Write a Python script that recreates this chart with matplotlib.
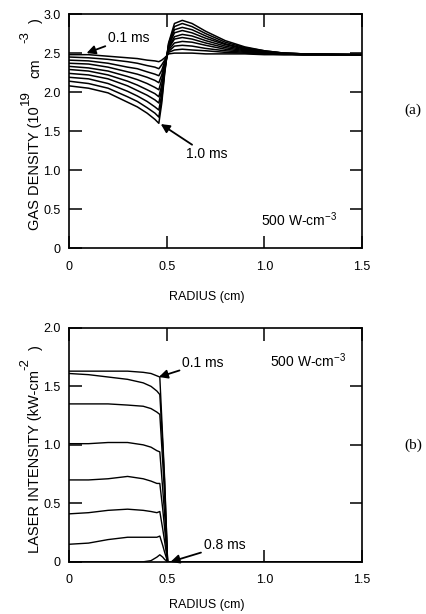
import matplotlib
matplotlib.use('Agg')
from matplotlib import pyplot as plt

plt.rcParams['font.family'] = ['Liberation Sans', 'DejaVu Sans']
plt.rcParams['mathtext.fontset'] = 'custom'
plt.rcParams['mathtext.rm'] = 'Liberation Sans'

# (a) gas density, 0.1 ms ... 1.0 ms
r_gas = [0, 0.1, 0.2, 0.3, 0.35, 0.4, 0.44, 0.46, 0.475, 0.49, 0.51, 0.54,
         0.58, 0.63, 0.7, 0.8, 0.9, 1.0, 1.1, 1.2, 1.5]
gas = [
    [2.48, 2.48, 2.46, 2.44, 2.43, 2.41, 2.40, 2.39, 2.41, 2.44, 2.49, 2.50, 2.50, 2.50, 2.49, 2.49, 2.49, 2.48, 2.48, 2.48, 2.48],
    [2.45, 2.44, 2.42, 2.39, 2.37, 2.34, 2.32, 2.30, 2.35, 2.41, 2.51, 2.54, 2.55, 2.54, 2.53, 2.51, 2.50, 2.49, 2.48, 2.48, 2.48],
    [2.41, 2.40, 2.37, 2.32, 2.30, 2.26, 2.23, 2.21, 2.28, 2.39, 2.52, 2.59, 2.60, 2.59, 2.56, 2.53, 2.51, 2.49, 2.49, 2.48, 2.48],
    [2.37, 2.36, 2.32, 2.26, 2.23, 2.19, 2.15, 2.12, 2.22, 2.37, 2.54, 2.63, 2.65, 2.64, 2.60, 2.55, 2.52, 2.50, 2.49, 2.48, 2.48],
    [2.33, 2.31, 2.27, 2.20, 2.16, 2.11, 2.06, 2.03, 2.16, 2.35, 2.56, 2.68, 2.70, 2.68, 2.63, 2.57, 2.53, 2.51, 2.49, 2.48, 2.48],
    [2.29, 2.27, 2.22, 2.14, 2.09, 2.03, 1.98, 1.94, 2.09, 2.32, 2.57, 2.71, 2.74, 2.72, 2.66, 2.59, 2.54, 2.51, 2.49, 2.48, 2.48],
    [2.24, 2.22, 2.17, 2.08, 2.02, 1.96, 1.90, 1.86, 2.04, 2.30, 2.59, 2.76, 2.79, 2.76, 2.69, 2.61, 2.55, 2.52, 2.50, 2.49, 2.48],
    [2.19, 2.17, 2.11, 2.01, 1.95, 1.88, 1.81, 1.77, 1.97, 2.28, 2.60, 2.80, 2.83, 2.80, 2.72, 2.62, 2.56, 2.52, 2.50, 2.49, 2.48],
    [2.14, 2.11, 2.05, 1.94, 1.88, 1.80, 1.73, 1.68, 1.91, 2.26, 2.62, 2.84, 2.88, 2.84, 2.75, 2.64, 2.57, 2.53, 2.50, 2.49, 2.48],
    [2.08, 2.05, 1.99, 1.87, 1.81, 1.73, 1.65, 1.60, 1.86, 2.24, 2.63, 2.88, 2.92, 2.88, 2.78, 2.66, 2.58, 2.53, 2.50, 2.49, 2.48],
]

# (b) laser intensity, 0.1 ms ... 0.8 ms
r_las = [0, 0.1, 0.2, 0.3, 0.38, 0.42, 0.45, 0.465, 0.48, 0.49, 0.505, 0.52, 1.5]
laser = [
    [1.63, 1.63, 1.63, 1.63, 1.62, 1.61, 1.59, 1.58, 1.05, 0.70, 0.0, 0.0, 0.0],
    [1.61, 1.60, 1.58, 1.56, 1.53, 1.50, 1.46, 1.43, 1.00, 0.66, 0.0, 0.0, 0.0],
    [1.35, 1.35, 1.35, 1.34, 1.33, 1.31, 1.28, 1.26, 0.85, 0.55, 0.0, 0.0, 0.0],
    [1.01, 1.01, 1.02, 1.02, 1.00, 0.98, 0.95, 0.94, 0.62, 0.40, 0.0, 0.0, 0.0],
    [0.70, 0.70, 0.71, 0.73, 0.71, 0.69, 0.67, 0.67, 0.45, 0.28, 0.0, 0.0, 0.0],
    [0.41, 0.42, 0.44, 0.45, 0.44, 0.43, 0.42, 0.43, 0.28, 0.17, 0.0, 0.0, 0.0],
    [0.15, 0.16, 0.19, 0.21, 0.21, 0.21, 0.21, 0.22, 0.14, 0.08, 0.0, 0.0, 0.0],
    [0.0, 0.0, 0.0, 0.0, 0.0, 0.01, 0.04, 0.06, 0.04, 0.02, 0.0, 0.0, 0.0],
]

# y labels as pieces: (text, size, raise px, gap after px)
ylab_gas = [('GAS DENSITY (10', 10.5, 0, 1), ('19', 9.5, 11, 12),
            ('cm', 10.5, 0, 16), ('-3', 9.5, 11, 8), (')', 10.5, 0, 0)]
ylab_las = [('LASER INTENSITY (kW-cm', 10.5, 0, 0), ('-2', 9.5, 11, 8),
            (')', 10.5, 0, 0)]

W, H = 427, 614
fig = plt.figure(figsize=(W / 100, H / 100), dpi=100)
ax1 = fig.add_axes([0.1616, 0.596, 0.686, 0.381])
ax2 = fig.add_axes([0.1616, 0.085, 0.686, 0.381])

for ys in gas:
    ax1.plot(r_gas, ys, color='k', lw=1.1)
for ys in laser:
    ax2.plot(r_las, ys, color='k', lw=1.0)

for ax, ymax, ylab_y in ((ax1, 3.0, -0.185), (ax2, 2.0, -0.16)):
    ax.set_xlim(0, 1.5)
    ax.set_ylim(0, ymax)
    ax.set_xticks([0, 0.5, 1.0, 1.5])
    ax.set_xticklabels(['0', '0.5', '1.0', '1.5'])
    yt = [i * 0.5 for i in range(int(ymax / 0.5) + 1)]
    ax.set_yticks(yt)
    ax.set_yticklabels(['0'] + ['%.1f' % v for v in yt[1:]])
    ax.tick_params(direction='in', length=9, width=1.1, top=True, right=True,
                   labelsize=9)
    ax.tick_params(axis='x', pad=9)
    ax.tick_params(axis='y', pad=6)
    for s in ax.spines.values():
        s.set_linewidth(1.2)
    ax.set_xlabel('RADIUS (cm)', fontsize=9)
    ax.xaxis.set_label_coords(0.471, ylab_y)


def vlabel(pieces, x_px, y_px):
    # stack rotated text pieces from bottom to top
    rend = fig.canvas.get_renderer()
    for text, size, rise, gap in pieces:
        t = fig.text((x_px - rise) / W, y_px / H, text, rotation=90,
                     rotation_mode='anchor', ha='left', va='baseline',
                     fontsize=size)
        y_px += t.get_window_extent(rend).height + gap


vlabel(ylab_gas, 39.5, H - 230)
vlabel(ylab_las, 39.5, H - 553)

arrow = dict(arrowstyle='-|>', color='k', lw=1.3, mutation_scale=13,
             shrinkA=0, shrinkB=0)
ax1.annotate('0.1 ms', xy=(0.09, 2.50), xytext=(0.20, 2.70), fontsize=10,
             va='center', arrowprops=arrow)
ax1.annotate('1.0 ms', xy=(0.47, 1.59), xytext=(0.60, 1.20), fontsize=10,
             va='center', arrowprops=arrow)
ax1.text(0.985, 0.37, '500 W-cm$^{-3}$', fontsize=10, va='center')

ax2.annotate('0.1 ms', xy=(0.46, 1.58), xytext=(0.58, 1.70), fontsize=10,
             va='center', arrowprops=arrow)
ax2.annotate('0.8 ms', xy=(0.52, 0.0), xytext=(0.69, 0.14), fontsize=10,
             va='center', arrowprops=arrow)
ax2.text(1.03, 1.72, '500 W-cm$^{-3}$', fontsize=10, va='center')

fig.text(413 / W, 1 - 110 / H, '(a)', fontsize=11, ha='center',
         va='center', family=['Liberation Serif', 'DejaVu Serif'])
fig.text(413 / W, 1 - 445 / H, '(b)', fontsize=11, ha='center',
         va='center', family=['Liberation Serif', 'DejaVu Serif'])

fig.savefig('out.png', dpi=100)
